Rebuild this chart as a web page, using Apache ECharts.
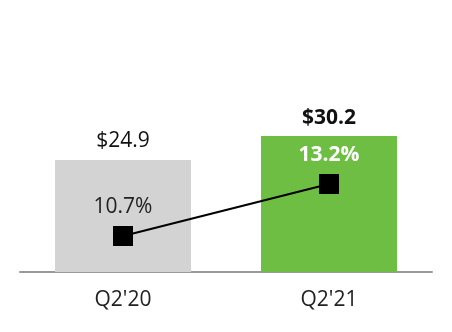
<!DOCTYPE html>
<html>
<head>
<meta charset="utf-8">
<script src="https://cdn.jsdelivr.net/npm/echarts@6/dist/echarts.min.js"></script>
<style>html,body{margin:0;padding:0;background:#fff}#c{width:452px;height:332px}</style>
</head>
<body>
<div id="c"></div>
<script>
var categories = ["Q2'20", "Q2'21"];
var revenue = [24.9, 30.2];
var revenueLabels = ["$24.9", "$30.2"];
var margin = [10.7, 13.2];
var marginLabels = ["10.7%", "13.2%"];

var FONT = '"Open Sans", sans-serif';
var chart = echarts.init(document.getElementById('c'));
chart.setOption({
  animation: false,
  grid: { left: 20, right: 20, top: 92, bottom: 60 },
  xAxis: {
    type: 'category',
    data: categories,
    axisLine: { lineStyle: { color: '#999', width: 2 } },
    axisTick: { show: false },
    axisLabel: { color: '#222', fontSize: 21, fontFamily: FONT, margin: 18 }
  },
  yAxis: [
    { type: 'value', min: 0, max: 40, show: false, splitLine: { show: false } },
    { type: 'value', min: 8.97, max: 17.62, show: false, splitLine: { show: false } }
  ],
  series: [
    {
      type: 'bar',
      barWidth: 136,
      data: revenue.map(function (v, i) {
        return {
          value: v,
          itemStyle: { color: i === 0 ? '#d3d3d3' : '#6fbe44' },
          label: {
            show: true, position: 'top', distance: 8,
            formatter: revenueLabels[i],
            fontSize: 21, fontFamily: FONT, color: '#111',
            fontWeight: i === 0 ? 'normal' : 'bold'
          }
        };
      }),
      z: 1
    },
    {
      type: 'line',
      yAxisIndex: 1,
      data: margin.map(function (v, i) {
        return {
          value: v,
          label: {
            show: true, position: 'top', distance: 8,
            formatter: marginLabels[i],
            fontSize: 21, fontFamily: FONT,
            color: i === 0 ? '#222' : '#fff',
            fontWeight: i === 0 ? 'normal' : 'bold'
          }
        };
      }),
      symbol: 'rect',
      symbolSize: 20,
      itemStyle: { color: '#000' },
      lineStyle: { color: '#000', width: 2 },
      z: 3
    }
  ]
});
</script>
</body>
</html>
